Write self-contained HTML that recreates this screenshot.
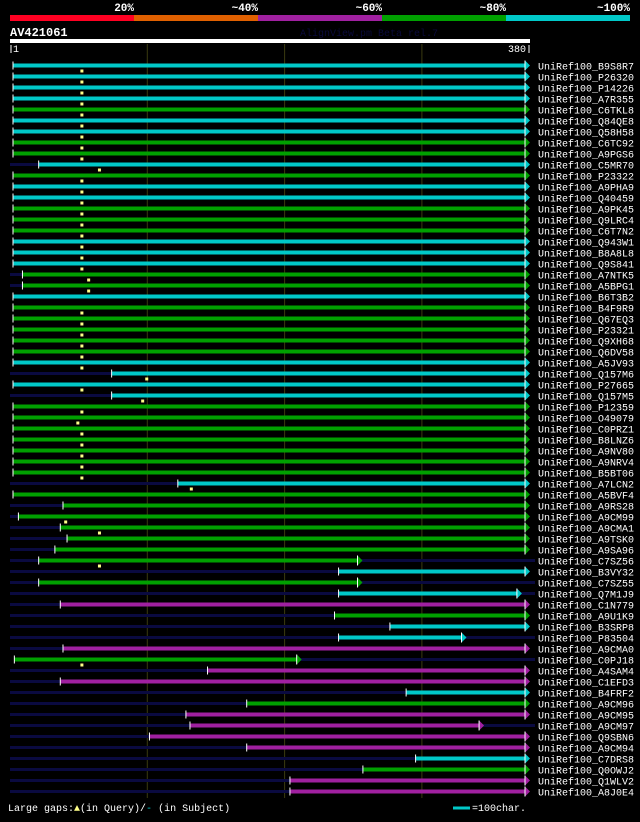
<!DOCTYPE html>
<html><head><meta charset="utf-8"><style>
html,body{margin:0;padding:0;background:#000;}
body{width:640px;height:817px;overflow:hidden;position:relative;font-family:"Liberation Mono",monospace;}
svg text{font-family:"Liberation Mono",monospace;}
</style></head><body>
<svg id="chart" width="640" height="817" viewBox="0 0 640 817" xmlns="http://www.w3.org/2000/svg">
<rect x="0" y="0" width="640" height="817" fill="#000"/>
<g id="legend"></g>
<text x="10" y="36" fill="#fff" font-size="12" font-weight="bold">AV421061</text>
<text x="300" y="36" fill="#0a0a3a" font-size="10">AlignView.pm Beta rel.7</text>
<rect x="10" y="39" width="520" height="4" fill="#fff"/>
<line x1="11" y1="45" x2="11" y2="53" stroke="#fff" stroke-width="1"/>
<text x="13" y="52" fill="#fff" font-size="10">1</text>
<text x="526" y="52" fill="#fff" font-size="10" text-anchor="end">380</text>
<line x1="529" y1="45" x2="529" y2="53" stroke="#fff" stroke-width="1"/>
<g id="grid"></g>
<g id="rows"></g>
<text x="8" y="811" fill="#fff" font-size="10">Large gaps:<tspan fill="#ffff88">▲</tspan>(in Query)/<tspan fill="#00c8c8">-</tspan> (in Subject)</text>
<line x1="453" y1="808" x2="470" y2="808" stroke="#00c8c8" stroke-width="3"/>
<text x="472" y="811" fill="#fff" font-size="10">=100char.</text>
</svg>
<script>
const legendLabels=["20%","~40%","~60%","~80%","~100%"];
const legendColors=["#ff0022","#e06000","#a020a0","#00a000","#00c8c8"];
const gridTicks=[100,200,300];
const names=["B9S8R7","P26320","P14226","A7R355","C6TKL8","Q84QE8","Q58H58","C6TC92","A9PGS6","C5MR70","P23322","A9PHA9","Q40459","A9PK45","Q9LRC4","C6T7N2","Q943W1","B8A8L8","Q9S841","A7NTK5","A5BPG1","B6T3B2","B4F9R9","Q67EQ3","P23321","Q9XH68","Q6DV58","A5JV93","Q157M6","P27665","Q157M5","P12359","O49079","C0PRZ1","B8LNZ6","A9NV80","A9NRV4","B5BT06","A7LCN2","A5BVF4","A9RS28","A9CM99","A9CMA1","A9TSK0","A9SA96","C7SZ56","B3VY32","C7SZ55","Q7M1J9","C1N779","A9U1K9","B3SRP8","P83504","A9CMA0","C0PJ18","A4SAM4","C1EFD3","B4FRF2","A9CM96","A9CM95","A9CM97","Q9SBN6","A9CM94","C7DRS8","Q0OWJ2","Q1WLV2","A8J0E4"];
const starts=[1,1,1,1,1,1,1,1,1,20,1,1,1,1,1,1,1,1,1,8,8,1,1,1,1,1,1,1,74,1,74,1,1,1,1,1,1,1,123,1,38,5,36,41,32,20,242,20,242,36,239,280,242,38,2,145,36,292,174,129,132,102,174,299,260,206,206];
const ends=[380,380,380,380,380,380,380,380,380,380,380,380,380,380,380,380,380,380,380,380,380,380,380,380,380,380,380,380,380,380,380,380,380,380,380,380,380,380,380,380,380,380,380,380,380,256,380,256,374,380,380,380,333,380,211,380,380,380,380,380,346,380,380,380,380,380,380];
const colorIdx=[4,4,4,4,3,4,4,3,3,4,3,4,4,3,3,3,4,4,4,3,3,4,3,3,3,3,3,4,4,4,4,3,3,3,3,3,3,3,4,3,3,3,3,3,3,3,4,3,4,2,3,4,4,2,3,2,2,4,3,2,2,2,2,4,3,2,2];
const gapQ=[52,52,52,52,52,52,52,52,52,65,52,52,52,52,52,52,52,52,52,57,57,0,52,52,52,52,52,52,100,52,97,52,49,52,52,52,52,52,133,0,0,40,65,0,0,65,0,0,0,0,0,0,0,0,52,0,0,0,0,0,0,0,0,0,0,0,0];
const x0=13,x1=525;
function xs(v){return x0+(v-1)*(x1-x0)/379;}
function gx(v){return 10+v*1.373;}
const NS="http://www.w3.org/2000/svg";
function mk(t,a,p){const e=document.createElementNS(NS,t);for(const k in a)e.setAttribute(k,a[k]);p.appendChild(e);return e;}
const lg=document.getElementById('legend');
legendColors.forEach((c,i)=>{
  const r=mk('rect',{x:10+i*124,y:15,width:124,height:6,fill:c},lg);
  
  
  const t=mk('text',{x:134+i*124,y:11,fill:'#fff','font-size':'11','font-weight':'bold','text-anchor':'end'},lg);
  t.textContent=legendLabels[i];
  
  
});
const g=document.getElementById('grid');
gridTicks.forEach(v=>{
  const l=mk('line',{x1:gx(v),y1:44,x2:gx(v),y2:798,stroke:'#3a3a10','stroke-width':1},g);
  
  
});
const rg=document.getElementById('rows');
names.forEach((n,i)=>{
  const y=65.5+11*i;
  const row=mk('g',{},rg);
  
  
  const sx=xs(starts[i]),ex=xs(ends[i]);
  if(sx>16) mk('line',{x1:10,y1:y,x2:sx,y2:y,stroke:'#0a0a40','stroke-width':3},row);
  if(ex<520) mk('line',{x1:ex,y1:y,x2:535,y2:y,stroke:'#0a0a40','stroke-width':3},row);
  const c=legendColors[colorIdx[i]];
  const b=mk('rect',{x:sx,y:y-2,width:ex-sx,height:4,fill:c},row);
  
  
  mk('line',{x1:sx,y1:y-4,x2:sx,y2:y+4,stroke:'#fff','stroke-width':1},row);
  mk('polygon',{points:`${ex},${y-5} ${ex+5},${y} ${ex},${y+5}`,fill:c},row);
  mk('line',{x1:ex,y1:y-5,x2:ex,y2:y+5,stroke:'#fff','stroke-width':1},row);
  if(gapQ[i]>0){
    const qx=xs(gapQ[i]);
    mk('rect',{x:qx-1.5,y:y+4,width:3,height:3,fill:'#ffff88'},row);
  }
  const t=mk('text',{x:538,y:y+4,fill:'#fff','font-size':'10'},row);
  t.textContent='UniRef100_'+n;
  
  
});
</script>
</body></html>
